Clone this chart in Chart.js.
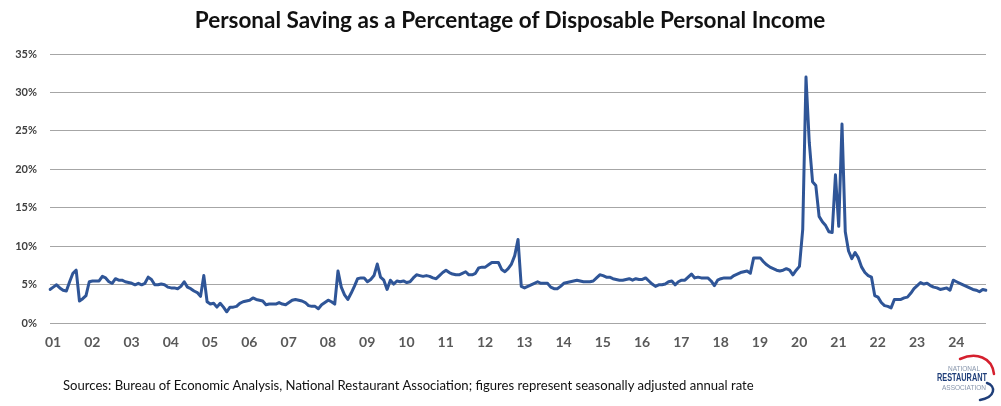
<!DOCTYPE html>
<html>
<head>
<meta charset="utf-8">
<script src="https://cdn.jsdelivr.net/npm/chart.js@4/dist/chart.umd.min.js"></script>
<style>
  html, body { margin: 0; padding: 0; background: #fff; }
  #wrap { position: relative; width: 1001px; height: 406px; overflow: hidden; background: #fff; }
  #c { position: absolute; left: 0; top: 0; }
  #title { position: absolute; left: 510px; top: 6px; transform: translateX(-50%); white-space: nowrap;
           font-family: Lato, "Open Sans", sans-serif; font-weight: bold; font-size: 22.5px; color: #111; }
  #footer { position: absolute; left: 63px; top: 377px; white-space: nowrap;
            font-family: Lato, sans-serif; font-size: 13.1px; color: #111; }
  #logo { position: absolute; left: 930px; top: 352px; }
</style>
</head>
<body>
<div id="wrap">
  <canvas id="c" width="1001" height="406"></canvas>
  <div id="title">Personal Saving as a Percentage of Disposable Personal Income</div>
  <div id="footer">Sources: Bureau of Economic Analysis, National Restaurant Association; figures represent seasonally adjusted annual rate</div>
  <svg id="logo" width="71" height="54" viewBox="0 0 71 54">
    <path d="M 30 7 C 46 0, 62 5, 64 22" fill="none" stroke="#d5202e" stroke-width="2.5" stroke-linecap="round"/>
    <path d="M 57 31 C 66 34, 66 45, 50 48" fill="none" stroke="#1f3e79" stroke-width="2.5" stroke-linecap="round"/>
    <text x="34" y="19" text-anchor="middle" font-family="Liberation Sans, Arial, sans-serif" font-size="6.5" fill="#8795ab">NATIONAL</text>
    <text x="32" y="29" text-anchor="middle" font-family="Liberation Sans, Arial, sans-serif" font-size="10" font-weight="bold" fill="#1f3e79" textLength="50" lengthAdjust="spacingAndGlyphs">RESTAURANT</text>
    <text x="34" y="38" text-anchor="middle" font-family="Liberation Sans, Arial, sans-serif" font-size="6.5" fill="#8795ab">ASSOCIATION</text>
  </svg>
</div>
<script>
// Year tick labels (one per January)
const yearLabels = ['01','02','03','04','05','06','07','08','09','10','11','12',
                    '13','14','15','16','17','18','19','20','21','22','23','24'];

// Personal saving rate (%), monthly, by year
const rate2001 = [4.4, 4.7, 5.0, 4.6, 4.3, 4.2, 5.4, 6.5, 6.9, 2.9, 3.2, 3.6];
const rate2002 = [5.4, 5.5, 5.5, 5.5, 6.1, 5.9, 5.4, 5.2, 5.8, 5.6, 5.6, 5.4];
const rate2003 = [5.3, 5.2, 5.0, 5.2, 5.0, 5.2, 6.0, 5.7, 5.0, 5.0, 5.1, 5.0];
const rate2004 = [4.7, 4.6, 4.6, 4.5, 4.8, 5.4, 4.7, 4.5, 4.2, 4.0, 3.5, 6.2];
const rate2005 = [2.8, 2.5, 2.6, 2.1, 2.6, 2.1, 1.5, 2.1, 2.1, 2.2, 2.6, 2.8];
const rate2006 = [2.9, 3.0, 3.3, 3.1, 3.0, 2.9, 2.4, 2.5, 2.5, 2.5, 2.7, 2.5];
const rate2007 = [2.4, 2.7, 3.0, 3.1, 3.0, 2.9, 2.7, 2.3, 2.2, 2.2, 1.9, 2.4];
const rate2008 = [2.7, 3.0, 2.8, 2.5, 6.8, 4.7, 3.7, 3.1, 3.9, 4.8, 5.8, 5.9];
const rate2009 = [5.9, 5.4, 5.7, 6.2, 7.7, 6.0, 5.6, 4.4, 5.6, 5.1, 5.5, 5.4];
const rate2010 = [5.5, 5.3, 5.4, 5.9, 6.3, 6.2, 6.1, 6.2, 6.1, 5.9, 5.8, 6.2];
const rate2011 = [6.6, 6.9, 6.6, 6.4, 6.3, 6.3, 6.5, 6.7, 6.3, 6.3, 6.5, 7.2];
const rate2012 = [7.3, 7.3, 7.6, 7.9, 7.9, 7.9, 7.0, 6.7, 7.1, 7.7, 8.8, 10.9];
const rate2013 = [4.8, 4.6, 4.8, 5.0, 5.2, 5.4, 5.2, 5.2, 5.2, 4.7, 4.5, 4.5];
const rate2014 = [4.8, 5.2, 5.3, 5.4, 5.5, 5.6, 5.5, 5.4, 5.4, 5.4, 5.5, 5.9];
const rate2015 = [6.3, 6.2, 6.0, 6.0, 5.8, 5.7, 5.6, 5.6, 5.7, 5.8, 5.6, 5.8];
const rate2016 = [5.7, 5.7, 5.9, 5.5, 5.1, 4.8, 5.0, 5.0, 5.1, 5.4, 5.5, 5.0];
const rate2017 = [5.4, 5.6, 5.6, 6.0, 6.4, 5.9, 6.0, 5.9, 5.9, 5.9, 5.5, 4.9];
const rate2018 = [5.6, 5.8, 5.9, 5.9, 5.9, 6.2, 6.4, 6.6, 6.7, 6.8, 6.5, 8.5];
const rate2019 = [8.5, 8.5, 8.0, 7.6, 7.3, 7.1, 6.9, 6.8, 6.9, 7.1, 6.9, 6.3];
const rate2020 = [6.9, 7.4, 12.2, 32.0, 23.5, 18.4, 17.9, 13.9, 13.2, 12.7, 11.9, 11.8];
const rate2021 = [19.3, 12.6, 25.9, 11.9, 9.4, 8.4, 9.2, 8.5, 7.3, 6.6, 6.2, 6.0];
const rate2022 = [3.6, 3.4, 2.7, 2.3, 2.2, 2.0, 3.1, 3.1, 3.1, 3.3, 3.4, 3.9];
const rate2023 = [4.5, 4.9, 5.3, 5.1, 5.2, 4.9, 4.7, 4.6, 4.4, 4.5, 4.6, 4.3];
const rate2024 = [5.6, 5.4, 5.2, 5.0, 4.8, 4.6, 4.4, 4.3, 4.1, 4.4, 4.3];

const yearlyRates = [rate2001, rate2002, rate2003, rate2004, rate2005, rate2006, rate2007, rate2008,
  rate2009, rate2010, rate2011, rate2012, rate2013, rate2014, rate2015, rate2016, rate2017,
  rate2018, rate2019, rate2020, rate2021, rate2022, rate2023, rate2024];

// Y-axis tick values (%)
const yTickValues = [0, 5, 10, 15, 20, 25, 30, 35];

const labels = [];
const values = [];
yearlyRates.forEach((arr, yi) => {
  arr.forEach((v, mi) => {
    labels.push(yearLabels[yi] + '-' + String(mi + 1).padStart(2, '0'));
    values.push(v);
  });
});

new Chart(document.getElementById('c'), {
  type: 'line',
  data: {
    labels: labels,
    datasets: [{
      data: values,
      borderColor: '#2F5597',
      borderWidth: 3,
      pointRadius: 0,
      pointHoverRadius: 0,
      tension: 0,
      fill: false,
      borderJoinStyle: 'round',
      borderCapStyle: 'round'
    }]
  },
  options: {
    responsive: false,
    animation: false,
    events: [],
    layout: { padding: { top: 54, right: 15, left: 0, bottom: 0 } },
    plugins: { legend: { display: false }, title: { display: false }, tooltip: { enabled: false } },
    scales: {
      x: {
        type: 'category',
        offset: false,
        grid: { display: false, drawTicks: false },
        border: { display: false },
        afterFit: (s) => { s.height = 82.7; },
        ticks: {
          autoSkip: false,
          maxRotation: 0,
          minRotation: 0,
          padding: 11,
          labelOffset: 3,
          color: '#595959',
          font: { family: 'Lato, sans-serif', weight: 'bold', size: 14 },
          callback: function (val, idx) {
            return idx % 12 === 0 ? yearLabels[idx / 12] : null;
          }
        }
      },
      y: {
        min: yTickValues[0],
        max: yTickValues[yTickValues.length - 1],
        afterFit: (s) => { s.width = 50; },
        afterBuildTicks: (s) => { s.ticks = yTickValues.map(v => ({ value: v })); },
        grid: { color: '#a6a6a6', lineWidth: 1, drawTicks: false },
        border: { display: false },
        ticks: {
          padding: 13,
          color: '#404040',
          font: { family: 'Lato, sans-serif', weight: 'bold', size: 11 },
          callback: (v) => v + '%'
        }
      }
    }
  }
});
</script>
</body>
</html>
